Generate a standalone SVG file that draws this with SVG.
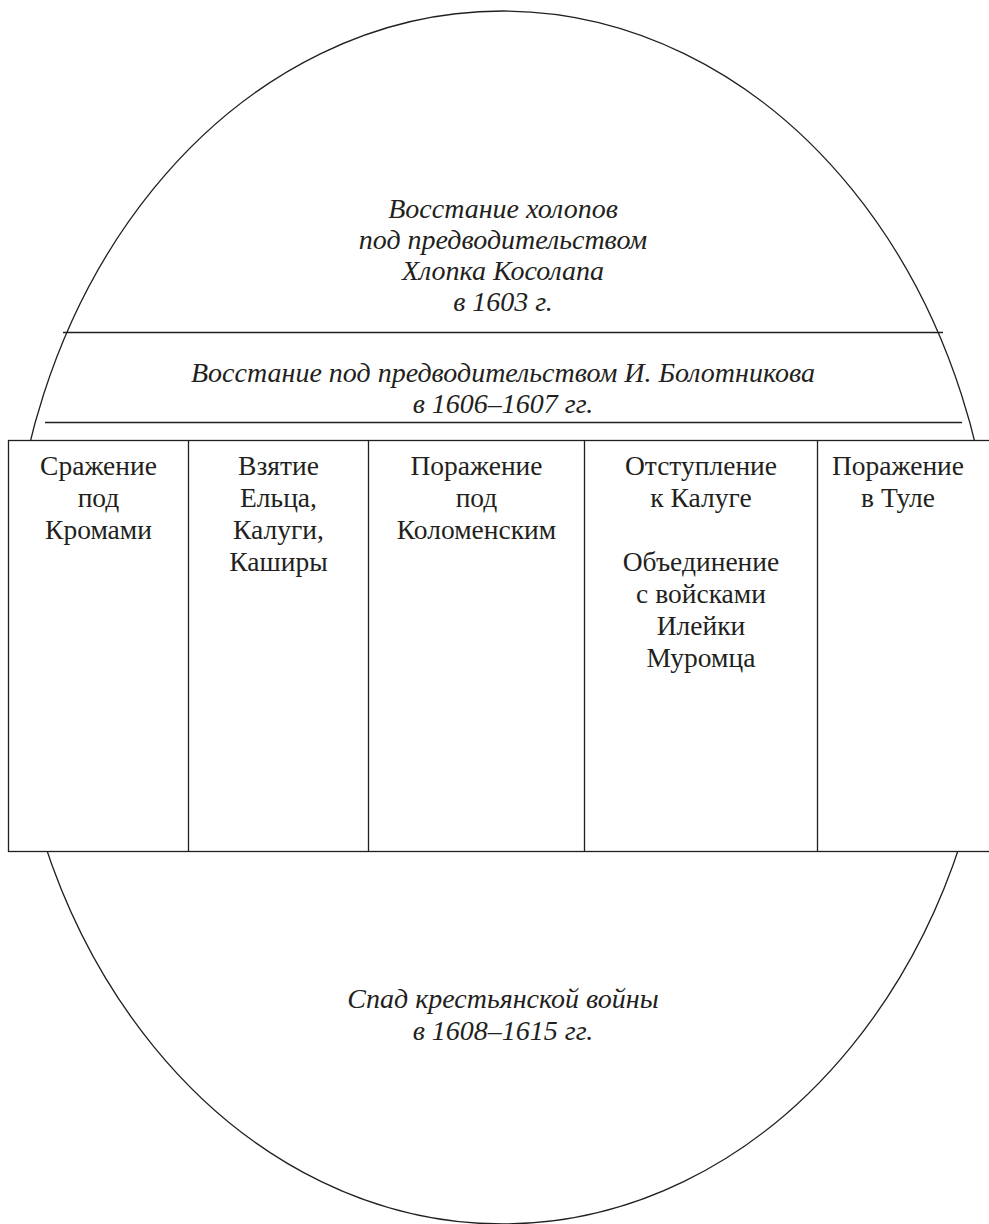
<svg xmlns="http://www.w3.org/2000/svg" width="989" height="1224" viewBox="0 0 989 1224">
<style>
.ln{stroke:#231f20;stroke-width:1.3;fill:none}
.t{font-family:"Liberation Serif","Times New Roman",serif;font-size:27.5px;fill:#231f20;text-anchor:middle}
.i{font-style:italic;font-size:28px}
</style>
<rect width="989" height="1224" fill="#fff"/>
<g id="oval">
<ellipse class="ln" cx="502.5" cy="617.5" rx="493.5" ry="606.5"/>
</g>
<g id="connectors">
<line class="ln" x1="63" y1="332.5" x2="943" y2="332.5"/>
<line class="ln" x1="45" y1="422.5" x2="962" y2="422.5"/>
</g>
<g id="top">
<text class="t i" x="503" y="218">Восстание холопов</text>
<text class="t i" x="503" y="249">под предводительством</text>
<text class="t i" x="503" y="280">Хлопка Косолапа</text>
<text class="t i" x="503" y="311">в 1603 г.</text>
</g>
<g id="middle">
<text class="t i" x="503" y="382">Восстание под предводительством И. Болотникова</text>
<text class="t i" x="503" y="413">в 1606–1607 гг.</text>
</g>
<g id="table">
<rect x="8.5" y="440.5" width="990" height="411" fill="#fff" stroke="#231f20" stroke-width="1.3"/>
<line class="ln" x1="188.5" y1="440" x2="188.5" y2="852"/>
<line class="ln" x1="368.5" y1="440" x2="368.5" y2="852"/>
<line class="ln" x1="584.5" y1="440" x2="584.5" y2="852"/>
<line class="ln" x1="817.5" y1="440" x2="817.5" y2="852"/>
</g>
<g id="col1">
<text class="t" x="98.5" y="475">Сражение</text>
<text class="t" x="98.5" y="507">под</text>
<text class="t" x="98.5" y="539">Кромами</text>
</g>
<g id="col2">
<text class="t" x="278.5" y="475">Взятие</text>
<text class="t" x="278.5" y="507">Ельца,</text>
<text class="t" x="278.5" y="539">Калуги,</text>
<text class="t" x="278.5" y="571">Каширы</text>
</g>
<g id="col3">
<text class="t" x="476.5" y="475">Поражение</text>
<text class="t" x="476.5" y="507">под</text>
<text class="t" x="476.5" y="539">Коломенским</text>
</g>
<g id="col4">
<text class="t" x="701" y="475">Отступление</text>
<text class="t" x="701" y="507">к Калуге</text>
<text class="t" x="701" y="571">Объединение</text>
<text class="t" x="701" y="603">с войсками</text>
<text class="t" x="701" y="635">Илейки</text>
<text class="t" x="701" y="667">Муромца</text>
</g>
<g id="col5">
<text class="t" x="898" y="475">Поражение</text>
<text class="t" x="898" y="507">в Туле</text>
</g>
<g id="bottom">
<text class="t i" x="503" y="1008">Спад крестьянской войны</text>
<text class="t i" x="503" y="1040">в  1608–1615 гг.</text>
</g>
</svg>
